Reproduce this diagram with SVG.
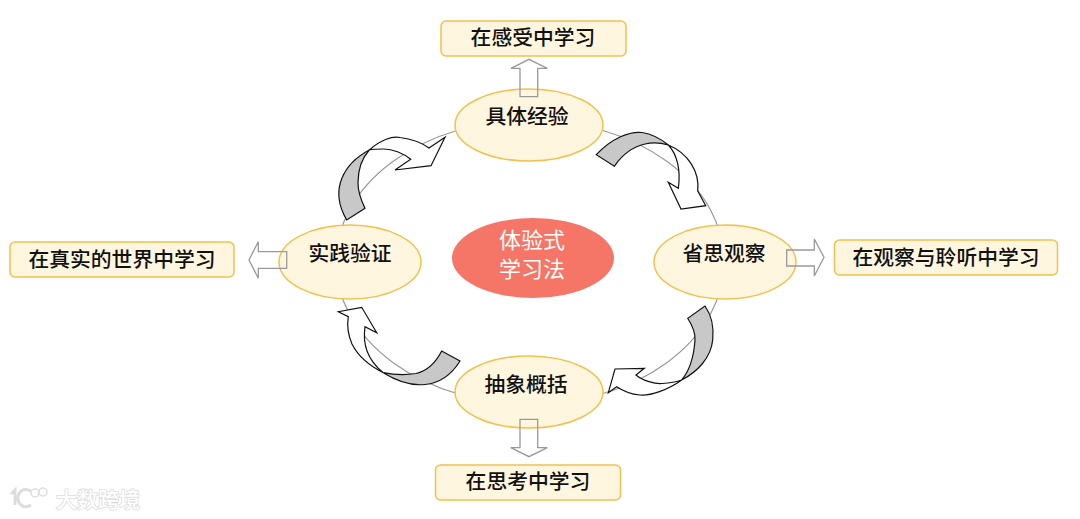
<svg xmlns="http://www.w3.org/2000/svg" width="1080" height="519" viewBox="0 0 1080 519">
<style>
text{font-family:"Noto Sans CJK SC","Noto Sans",sans-serif;font-weight:500;text-anchor:middle;fill:#111;font-size:20.8px}
.node{fill:#FFF6E0;stroke:#F2C14E;stroke-width:1.5}
.box{fill:#FFF6E0;stroke:#F2C14E;stroke-width:1.5}
.block{fill:none;stroke:#999;stroke-width:1.3}
.rib{stroke:#111;stroke-width:1.2;stroke-linejoin:miter}
.w{fill:#fff}.g{fill:#C8C8C8}
.ct{fill:#fff;font-size:22px;font-weight:400}
.wm{fill:#fff;stroke:#DDD;stroke-width:1.6;paint-order:stroke;font-size:21px}
</style>
<rect width="1080" height="519" fill="#fff"/>
<g id="ring"><ellipse cx="530" cy="262" rx="194" ry="142" fill="none" stroke="#999" stroke-width="1.2"/></g>
<g id="node-top"><ellipse class="node" cx="529" cy="125" rx="74" ry="36"/><text x="527" y="124">具体经验</text></g>
<g id="node-left"><ellipse class="node" cx="350" cy="262" rx="71" ry="37"/><text x="350" y="261">实践验证</text></g>
<g id="node-right"><ellipse class="node" cx="725" cy="262" rx="71" ry="37"/><text x="724" y="261">省思观察</text></g>
<g id="node-bottom"><ellipse class="node" cx="529" cy="392" rx="74" ry="36"/><text x="526" y="392">抽象概括</text></g>
<g id="node-center"><ellipse cx="533" cy="258" rx="81" ry="40" fill="#F57566"/><text class="ct" x="532" y="248">体验式</text><text class="ct" x="532" y="277">学习法</text></g>
<g id="box-top"><rect class="box" x="441" y="21" width="185" height="35" rx="5"/><text x="533" y="45">在感受中学习</text></g>
<g id="box-left"><rect class="box" x="10" y="242" width="224" height="35" rx="5"/><text x="122" y="267">在真实的世界中学习</text></g>
<g id="box-right"><rect class="box" x="834.5" y="240" width="223" height="35" rx="5"/><text x="946" y="265">在观察与聆听中学习</text></g>
<g id="box-bottom"><rect class="box" x="435.500" y="465" width="185" height="35" rx="5"/><text x="528" y="489">在思考中学习</text></g>
<g id="connectors">
<path class="block" d="M520,96.700V68.300H511L529,59.300L547.300,68.300H537.700V96.700Z"/>
<path class="block" d="M286.700,251.700H258.300V241.700L249,260L258.300,278.300V268.300H286.700Z"/>
<path class="block" d="M786.700,250H814.300V239L824,257.300L814.300,276V266H786.700Z"/>
<path class="block" d="M520,419.300V447.700H510.700L529,456.700L547.300,447.700H537.700V419.300Z"/>
<path class="rib w" d="M668.300,145C677,154 681,170 678.300,188.300L668.300,182.300L681,209L705.700,205.700L697.700,191C700,172 688,153 668.300,145Z"/>
<path class="rib g" d="M596.300,154.700C612,138 630,131 642,132.500C652,134 661,139 668.300,145C660,142.500 653,142 645,144C632,147 622,155 614.300,166.300Z"/>
<path class="rib w" d="M369.300,150C380,140 392,136 400,137.500C412,139 422,143 429,148L445,137.300L431,165.700L395,170L410.700,159.300C403,153 392,149 384,149C378,149 373,149 369.300,150Z"/>
<path class="rib g" d="M346.700,220C338,205 337,190 342,178C347,166 358,156 369.300,150C362,158 358,170 358,183C358,192 361,200 365,208.300Z"/>
<path class="rib w" d="M681.700,380C668,390 650,396 640,395C630,394 623,391 616.700,386.700L608.300,392.700L615,369L644.300,368.300L636,375C643,381 655,384 662,383.500C669,383 676,382 681.700,380Z"/>
<path class="rib g" d="M705,306C712,316 714,328 712.700,340C711,358 697,372 681.700,380C690,370 694,355 695,340C695.500,332 692,325 687.700,318.300Z"/>
<path class="rib w" d="M383.300,372.700C370,366 358,356 352,344C348,335 347,325 348.300,316.700L338.300,311.700L361.700,307.300L376.700,332.700L365,326.700C364,334 364,343 367,351C370,359 376,367 383.300,372.700Z"/>
<path class="rib g" d="M460,361C452,374 440,383 425,384.500C410,386 395,380 383.300,372.700C395,375 407,375 416,373.500C427,371 436,362 441.700,351Z"/>
</g>
<g id="watermark"><path d="M11,494L15,490V505M31,491C23,487 18,492 18,498C18,505 24,509 31,505" fill="none" stroke="#DDD" stroke-width="3"/><circle cx="35" cy="493" r="4" fill="none" stroke="#DDD" stroke-width="1.5"/><circle cx="43" cy="492" r="4" fill="none" stroke="#DDD" stroke-width="1.5"/><text class="wm" x="98" y="507">大数跨境</text></g>
</svg>
